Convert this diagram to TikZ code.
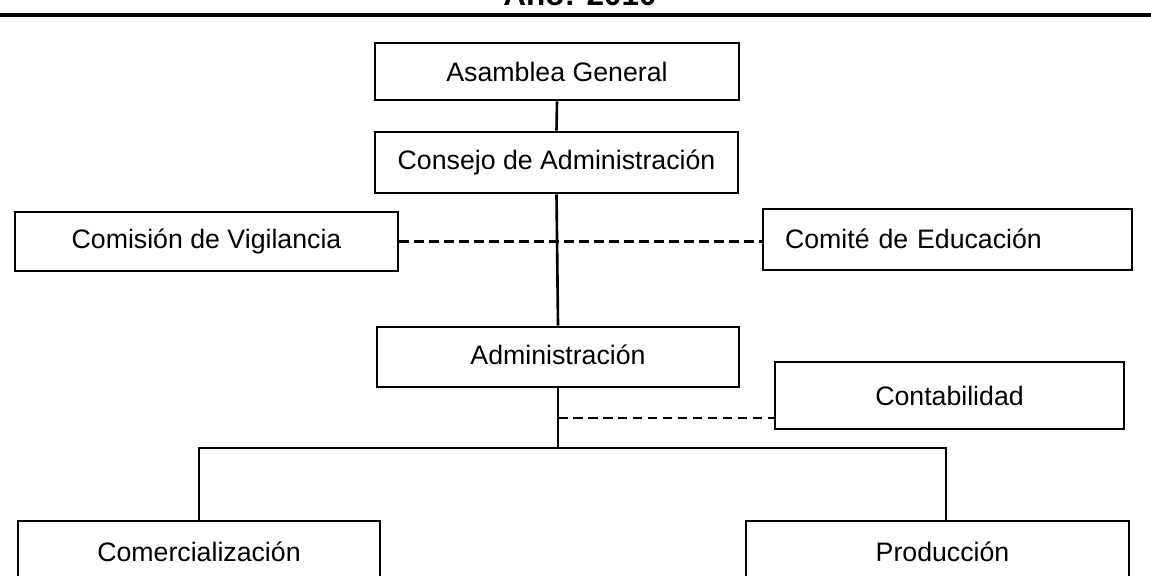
\documentclass[tikz,border=0pt]{standalone}
\usepackage{fontspec}
\setmainfont{Liberation Sans}
\begin{document}
\begin{tikzpicture}[x=0.02cm,y=-0.02cm,
  box/.style={draw=black, line width=1.5pt, rectangle, inner sep=0pt,
    font=\fontsize{15.2}{18}\selectfont},
  link/.style={draw=black, line width=1.5pt},
  dlink/.style={draw=black, line width=1.6pt, dash pattern=on 0.19cm off 0.11cm}]
\useasboundingbox (0,0) rectangle (1151,575);
% title (cut at top) and rule
\node[anchor=base, inner sep=0pt, font=\bfseries\fontsize{17.9}{20}\selectfont] (title) at (580,5) {Año: 2010};
\coordinate (rl) at (0,15);
\coordinate (rr) at (1151,15);
\draw[line width=2.8pt] (rl) -- (rr);
% boxes
\node[box, minimum width=7.28cm, minimum height=1.14cm] (asam) at (557,71.5) {Asamblea General};
\node[box, minimum width=7.26cm, minimum height=1.22cm] (cons) at (556.5,162.5) {Consejo de Administración};
\node[box, minimum width=7.66cm, minimum height=1.18cm] (comi) at (206.5,241.5) {\raisebox{0.08cm}{Comisión de Vigilancia}};
\node[box, minimum width=7.38cm, minimum height=1.22cm, text width=6.5cm, align=left, inner xsep=0.44cm] (edu) at (947.5,239.5) {\raisebox{0.05cm}{Comité de Educación}};
\node[box, minimum width=7.24cm, minimum height=1.2cm] (adm) at (558,357) {\raisebox{0.08cm}{Administración}};
\node[box, minimum width=6.98cm, minimum height=1.34cm] (cont) at (949.5,395.5) {Contabilidad};
\node[box, minimum width=7.24cm, minimum height=1.24cm] (come) at (199,552) {Comercialización};
\node[box, minimum width=7.66cm, minimum height=1.24cm] (prod) at (937.5,552) {\hspace{0.2cm}Producción};
% connectors
\draw[link] (asam.south) -- (cons.north);
\draw[link] (cons.south) -- (adm.north);
\draw[dlink] (comi.east) -- (comi.east -| edu.west);
\coordinate (j1) at (558,418);
\coordinate (bus) at (558,448);
\draw[dlink] (j1) -- (j1 -| cont.west);
\draw[link] (adm.south) -- (bus);
\draw[link] (come.north) |- (bus) -| ([xshift=0.17cm]prod.north);
\end{tikzpicture}
\end{document}
